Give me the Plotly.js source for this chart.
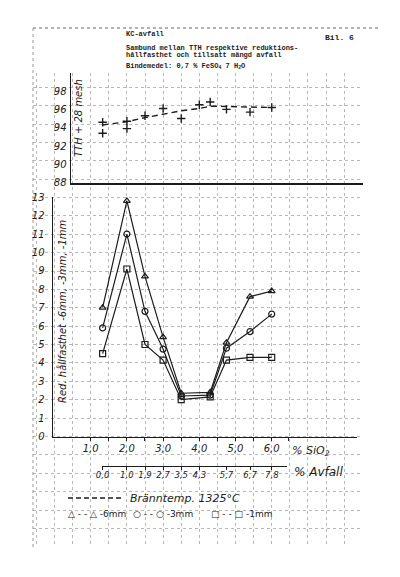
<!DOCTYPE html>
<html>
<head>
<meta charset="utf-8">
<script src="https://cdn.plot.ly/plotly-3.0.1.min.js"></script>
<style>html,body{margin:0;padding:0;background:#fff}#chart{width:400px;height:577px}</style>
</head>
<body>
<div id="chart"></div>
<script>
// ---- data ----
const sio2 = [1.33, 2.0, 2.5, 3.0, 3.5, 4.3, 4.75, 5.4, 6.0];     // % SiO2 of each mix
const red6mm = [7.0, 12.8, 8.7, 5.4, 2.35, 2.4, 5.1, 7.6, 7.9];    // Red. hållfasthet -6mm
const red3mm = [5.9, 11.0, 6.8, 4.75, 2.2, 2.25, 4.8, 5.7, 6.65];  // -3mm
const red1mm = [4.5, 9.1, 5.0, 4.15, 2.0, 2.15, 4.15, 4.3, 4.3];   // -1mm

const tthX = [1.33, 1.33, 2.0, 2.0, 2.5, 3.0, 3.5, 4.0, 4.3, 4.75, 5.4, 6.0];
const tthY = [94.6, 93.4, 94.7, 93.9, 95.3, 96.1, 95.0, 96.5, 96.8, 96.0, 95.7, 96.2];
const trendX = [1.33, 2.0, 2.5, 3.0, 3.5, 4.0, 4.3, 6.0];
const trendY = [94.3, 94.65, 95.1, 95.5, 95.85, 96.1, 96.35, 96.2];

const sio2TickVals = [1, 2, 3, 4, 5, 6];
const sio2TickText = ['1,0', '2,0', '3,0', '4,0', '5,0', '6,0'];
const avfallTickVals = [1.33, 2.0, 2.5, 3.0, 3.5, 4.0, 4.75, 5.4, 6.0];
const avfallTickText = ['0,0', '1,0', '1,9', '2,7', '3,5', '4,3', '5,7', '6,7', '7,8'];
const tthTicks = [88, 90, 92, 94, 96, 98];
const redTicks = [0,1,2,3,4,5,6,7,8,9,10,11,12,13];

// ---- styling ----
const W = 400, H = 577;
const px = v => v / W;
const py = v => 1 - v / H;
const ink = '#1c1c1c';
const hand = {family: 'DejaVu Sans', size: 10, color: ink, style: 'italic'};
const typ = {family: 'Liberation Mono', size: 7, color: ink, weight: 'bold'};

const traces = [
  // background graph paper subplot (no data)
  {x: [], y: [], xaxis: 'x', yaxis: 'y', type: 'scatter', hoverinfo: 'skip', showlegend: false},
  // upper chart
  {x: trendX, y: trendY, xaxis: 'x2', yaxis: 'y2', type: 'scatter', mode: 'lines',
   line: {color: ink, width: 1.4, dash: '6px,4px'}, showlegend: false},
  {x: tthX, y: tthY, xaxis: 'x2', yaxis: 'y2', type: 'scatter', mode: 'markers',
   marker: {symbol: 'cross-thin', size: 6, line: {color: ink, width: 1.4}}, showlegend: false},
  // lower chart
  {x: sio2, y: red6mm, xaxis: 'x3', yaxis: 'y3', type: 'scatter', mode: 'lines+markers', name: '-6mm',
   line: {color: ink, width: 1.2}, marker: {symbol: 'triangle-up-open', size: 6, color: ink, line: {width: 1.2}}, showlegend: false},
  {x: sio2, y: red3mm, xaxis: 'x3', yaxis: 'y3', type: 'scatter', mode: 'lines+markers', name: '-3mm',
   line: {color: ink, width: 1.2}, marker: {symbol: 'circle-open', size: 6, color: ink, line: {width: 1.2}}, showlegend: false},
  {x: sio2, y: red1mm, xaxis: 'x3', yaxis: 'y3', type: 'scatter', mode: 'lines+markers', name: '-1mm',
   line: {color: ink, width: 1.2}, marker: {symbol: 'square-open', size: 6, color: ink, line: {width: 1.2}}, showlegend: false},
  // secondary Avfall axis (no data)
  {x: [], y: [], xaxis: 'x4', yaxis: 'y4', type: 'scatter', hoverinfo: 'skip', showlegend: false}
];

const gridStyle = {showgrid: true, gridcolor: '#b8b8b8', griddash: 'dot', gridwidth: 1,
  zeroline: false, showline: false, ticks: '', showticklabels: false, fixedrange: true};

const layout = {
  width: W, height: H,
  margin: {l: 0, r: 0, t: 0, b: 0},
  paper_bgcolor: '#ffffff',
  plot_bgcolor: 'rgba(0,0,0,0)',
  showlegend: false,
  xaxis: Object.assign({}, gridStyle, {domain: [px(33), px(360)], range: [33, 360], tick0: 54.5, dtick: 18.1, anchor: 'y'}),
  yaxis: Object.assign({}, gridStyle, {domain: [py(547), py(73)], range: [547, 73], tick0: 436.5, dtick: 18.38, anchor: 'x'}),
  xaxis2: {domain: [px(71), px(363)], range: [0.456, 8.52], anchor: 'y2', showgrid: false, zeroline: false,
    showline: true, linecolor: ink, linewidth: 2, ticks: '', showticklabels: false},
  yaxis2: {domain: [py(182.7), py(72.7)], range: [88, 100], anchor: 'x2', showgrid: false, zeroline: false,
    showline: true, linecolor: ink, linewidth: 1.5, ticks: '', tickvals: tthTicks,
    ticklabelstandoff: 1, tickfont: hand},
  xaxis3: {domain: [px(53), px(357)], range: [-0.041, 8.356], anchor: 'y3', showgrid: false, zeroline: false,
    showline: true, linecolor: ink, linewidth: 1.6, ticks: 'outside', ticklen: 3, tickcolor: ink,
    tickvals: sio2TickVals, ticktext: sio2TickText, tickfont: hand, ticklabelstandoff: -1,
    minor: {tickvals: [1.5, 2.5, 3.5, 4.5, 5.5, 6.45], ticks: 'outside', ticklen: 3, tickcolor: ink}},
  yaxis3: {domain: [py(436.5), py(196.5)], range: [0, 13.04], anchor: 'x3', showgrid: false, zeroline: false,
    showline: true, linecolor: ink, linewidth: 1.5, ticks: '', tickvals: redTicks,
    ticklabelstandoff: 5, tickfont: hand},
  xaxis4: {domain: [px(102), px(287)], range: [1.313, 6.42], anchor: 'y4', side: 'bottom',
    showgrid: false, zeroline: false,
    showline: true, linecolor: ink, linewidth: 1.6, ticks: 'outside', ticklen: 3, tickcolor: ink,
    tickvals: avfallTickVals, ticktext: avfallTickText, ticklabelstandoff: -2,
    tickfont: {family: 'DejaVu Sans', size: 8.5, color: ink, style: 'italic'}},
  yaxis4: {domain: [py(465.5), py(464.5)], range: [0, 1], anchor: 'x4', visible: false, showgrid: false, zeroline: false},
  shapes: [
    {type: 'line', xref: 'paper', yref: 'paper', x0: px(33), x1: px(380), y0: py(28), y1: py(28),
     line: {color: '#666', width: 1, dash: 'dot'}},
    {type: 'line', xref: 'paper', yref: 'paper', x0: px(33), x1: px(33), y0: py(28), y1: py(547),
     line: {color: '#999', width: 1, dash: 'dot'}},
    {type: 'line', xref: 'paper', yref: 'paper', x0: px(68), x1: px(123), y0: py(498), y1: py(498),
     line: {color: ink, width: 1.4, dash: '5px,3px'}}
  ],
  annotations: [
    {text: 'KC-avfall', x: px(124), y: py(34.3), xref: 'paper', yref: 'paper', xanchor: 'left', yanchor: 'middle', showarrow: false, font: typ},
    {text: 'Sambund mellan TTH respektive reduktions-', x: px(124), y: py(47.7), xref: 'paper', yref: 'paper', xanchor: 'left', yanchor: 'middle', showarrow: false, font: typ},
    {text: 'hållfasthet och tillsatt mängd avfall', x: px(124), y: py(54.6), xref: 'paper', yref: 'paper', xanchor: 'left', yanchor: 'middle', showarrow: false, font: typ},
    {text: 'Bindemedel: 0,7 % FeSO<sub>4</sub> 7 H<sub>2</sub>O', x: px(124), y: py(65.7), xref: 'paper', yref: 'paper', xanchor: 'left', yanchor: 'middle', showarrow: false, font: typ},
    {text: 'Bil. 6', x: px(323), y: py(37.7), xref: 'paper', yref: 'paper', xanchor: 'left', yanchor: 'middle', showarrow: false,
     font: {family: 'Liberation Mono', size: 8, color: ink, weight: 'bold'}},
    {text: 'TTH + 28 mesh', x: px(78), y: py(118), xref: 'paper', yref: 'paper', xanchor: 'center', yanchor: 'middle', textangle: -90, showarrow: false,
     font: {family: 'DejaVu Sans', size: 10, color: ink, style: 'italic'}},
    {text: 'Red. hållfasthet -6mm, -3mm, -1mm', x: px(62), y: py(311), xref: 'paper', yref: 'paper', xanchor: 'center', yanchor: 'middle', textangle: -90, showarrow: false,
     font: {family: 'DejaVu Sans', size: 10, color: ink, style: 'italic'}},
    {text: '% SiO<sub>2</sub>', x: px(290), y: py(451), xref: 'paper', yref: 'paper', xanchor: 'left', yanchor: 'middle', showarrow: false,
     font: {family: 'DejaVu Sans', size: 11, color: ink, style: 'italic'}},
    {text: '% Avfall', x: px(292), y: py(472), xref: 'paper', yref: 'paper', xanchor: 'left', yanchor: 'middle', showarrow: false,
     font: {family: 'DejaVu Sans', size: 12, color: ink, style: 'italic'}},
    {text: 'Bränntemp. 1325°C', x: px(128), y: py(498), xref: 'paper', yref: 'paper', xanchor: 'left', yanchor: 'middle', showarrow: false,
     font: {family: 'DejaVu Sans', size: 11, color: ink, style: 'italic'}},
    {text: '△ - - △ -6mm', x: px(66), y: py(514), xref: 'paper', yref: 'paper', xanchor: 'left', yanchor: 'middle', showarrow: false,
     font: {family: 'DejaVu Sans', size: 9, color: ink}},
    {text: '○ - - ○ -3mm', x: px(131), y: py(514), xref: 'paper', yref: 'paper', xanchor: 'left', yanchor: 'middle', showarrow: false,
     font: {family: 'DejaVu Sans', size: 9, color: ink}},
    {text: '□ - - □ -1mm', x: px(209), y: py(514), xref: 'paper', yref: 'paper', xanchor: 'left', yanchor: 'middle', showarrow: false,
     font: {family: 'DejaVu Sans', size: 9, color: ink}}
  ]
};

Plotly.newPlot('chart', traces, layout, {staticPlot: true, displayModeBar: false});
</script>
</body>
</html>
